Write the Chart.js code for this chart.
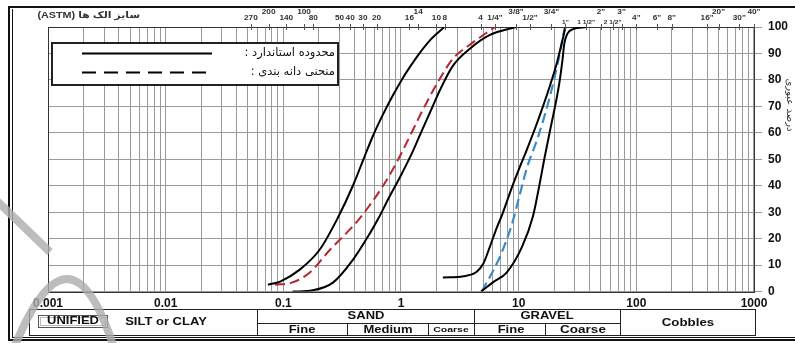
<!DOCTYPE html>
<html>
<head>
<meta charset="utf-8">
<script src="https://cdn.jsdelivr.net/npm/chart.js@4"></script>
<style>
html, body { margin: 0; padding: 0; background: #fff; }
canvas { display: block; }
</style>
</head>
<body>
<canvas id="gradingChart" width="795" height="343"></canvas>
<script>
// grain size (mm) and percent passing
const sandUpperSize = [0.074, 0.094, 0.138, 0.205, 0.29, 0.39, 0.474, 0.577, 0.70, 0.85, 1.02, 1.2, 1.4, 1.8, 2.33];
const sandUpperPass = [2.6, 3.8, 8.3, 16, 27.8, 40, 49.4, 58.8, 66.8, 74, 80.2, 85.1, 89.4, 95.4, 100];

const sandLowerSize = [0.12, 0.178, 0.264, 0.39, 0.544, 0.64, 0.78, 1.0, 1.26, 1.46, 1.83, 2.15, 2.76, 3.85, 5.7, 9.5];
const sandLowerPass = [0, 0.5, 3.4, 12, 22, 27.5, 35, 44, 53, 59.5, 69.3, 76.3, 85.3, 91.8, 97, 100];

const sandCurveSize = [0.085, 0.118, 0.168, 0.249, 0.368, 0.43, 0.55, 0.70, 0.853, 1.0, 1.26, 1.53, 2.06, 2.76, 3.85, 6.3];
const sandCurvePass = [2.6, 3.4, 7.2, 15.8, 23.5, 26.8, 33, 39.8, 46.2, 52, 61, 68.6, 79.2, 88, 93.3, 100];

const gravelUpperSize = [2.27, 3.4, 4.4, 5.0, 5.7, 6.5, 7.3, 8.7, 10, 11.7, 14, 16.1, 18.5, 21, 23, 25];
const gravelUpperPass = [5.3, 5.8, 7.5, 10.5, 17, 24, 29.5, 39, 46, 53.5, 62.5, 70, 78, 86, 93, 100];

const gravelLowerSize = [4.8, 6.0, 7.9, 10.7, 13.2, 14.9, 16.5, 18.5, 20.5, 22.2, 23.5, 24.5, 26, 29, 37.5];
const gravelLowerPass = [0, 3.4, 7.2, 17, 28.3, 39.5, 50, 61, 70.5, 79, 87, 94, 97.5, 99.2, 100];

const gravelCurveSize = [4.86, 6.9, 8.7, 10, 11.8, 14.5, 18.5, 22, 24.7];
const gravelCurvePass = [0, 13, 25, 35, 47, 58, 74, 88.5, 100];

// bottom axis labels
const decadeTicks = [0.001, 0.01, 0.1, 1, 10, 100, 1000];
const decadeLabels = ['0.001', '0.01', '0.1', '1', '10', '100', '1000'];

// ASTM sieves along the top edge (label, opening in mm)
const sieveLowLabels = ['270', '140', '80', '50', '40', '30', '20', '16', '10', '8', '4', '1/4"', '1/2"', '4"', '6"', '8"', '16"', '30"'];
const sieveLowSizes = [0.053, 0.106, 0.18, 0.3, 0.37, 0.475, 0.62, 1.18, 2.0, 2.36, 4.75, 6.3, 12.5, 100, 150, 200, 400, 750];
const sieveHighLabels = ['200', '100', '14', '3/8"', '3/4"', '2"', '3"', '20"', '40"'];
const sieveHighSizes = [0.075, 0.15, 1.4, 9.5, 19, 50, 75, 500, 1000];
const sieveSmallLabels = ['1"', '1 1/2"', '2 1/2"'];
const sieveSmallSizes = [25, 37.5, 63];

const legendLabels = ['محدوده استاندارد :', 'منحنی دانه بندی :'];

const LATIN = '"Liberation Sans", Arial, sans-serif';
const PERSIAN = '"DejaVu Sans", sans-serif';

function toPoints(sizes, passes) {
    return sizes.map((s, i) => ({ x: s, y: passes[i] }));
}

const gridTicks = [];
for (let e = -3; e < 3; e++) {
    for (let m = 1; m < 10; m++) {
        gridTicks.push(+(m * Math.pow(10, e)).toPrecision(3));
    }
}
gridTicks.push(1000);

function stretchText(c, text, x, y, font, sx, align, color) {
    c.save();
    c.translate(x, y);
    c.scale(sx, 1);
    c.font = font;
    c.fillStyle = color || '#111';
    c.textAlign = align || 'center';
    c.textBaseline = 'middle';
    c.fillText(text, 0, 0);
    c.restore();
}

function hLine(c, x1, x2, y) {
    c.beginPath(); c.moveTo(x1, y); c.lineTo(x2, y); c.stroke();
}
function vLine(c, x, y1, y2) {
    c.beginPath(); c.moveTo(x, y1); c.lineTo(x, y2); c.stroke();
}

function drawSieveAxis(chart) {
    const c = chart.ctx;
    const xs = chart.scales.x;
    const top = chart.chartArea.top;
    const groups = [
        [sieveLowLabels, sieveLowSizes, 18, 'bold 7.5px ' + LATIN],
        [sieveHighLabels, sieveHighSizes, 12, 'bold 7.5px ' + LATIN],
        [sieveSmallLabels, sieveSmallSizes, 22, 'bold 6px ' + LATIN]
    ];
    c.save();
    c.strokeStyle = '#555';
    c.lineWidth = 1;
    groups.forEach(([labels, sizes, y, font]) => {
        sizes.forEach((s, i) => {
            const px = xs.getPixelForValue(s);
            vLine(c, Math.round(px) + 0.5, top - 3, top + 3);
            stretchText(c, labels[i], px, y, font, 1.1, 'center', '#333');
        });
    });
    c.restore();

    c.save();
    c.direction = 'rtl';
    stretchText(c, 'سایز الک ها (ASTM)', 140, 16, 'bold 9px ' + LATIN + ', ' + PERSIAN, 1.2, 'right', '#333');
    c.restore();

    c.save();
    c.translate(790, 105);
    c.rotate(Math.PI / 2);
    c.direction = 'rtl';
    c.font = '10px ' + PERSIAN;
    c.fillStyle = '#333';
    c.textAlign = 'center';
    c.textBaseline = 'middle';
    c.fillText('درصد عبوری', 0, 0);
    c.restore();
}

function drawLegendBox(c) {
    c.save();
    c.fillStyle = '#fff';
    c.fillRect(52, 43, 286, 42);
    c.strokeStyle = '#222';
    c.lineWidth = 2;
    c.strokeRect(52, 43, 286, 42);

    c.strokeStyle = '#000';
    c.lineWidth = 2;
    hLine(c, 82, 212, 53.5);
    c.setLineDash([14, 8]);
    hLine(c, 82, 212, 72.5);
    c.setLineDash([]);

    c.direction = 'rtl';
    c.font = '11.5px ' + PERSIAN;
    c.fillStyle = '#111';
    c.textAlign = 'right';
    c.textBaseline = 'middle';
    c.fillText(legendLabels[0], 335, 53);
    c.fillText(legendLabels[1], 335, 72);
    c.restore();
}

function drawTable(c) {
    c.save();
    c.strokeStyle = '#222';
    c.lineWidth = 1;
    c.strokeRect(29.5, 309.5, 726, 26);
    vLine(c, 257.5, 309.5, 335.5);
    vLine(c, 474.5, 309.5, 335.5);
    vLine(c, 620.5, 309.5, 335.5);
    vLine(c, 347.5, 323.5, 335.5);
    vLine(c, 428.5, 323.5, 335.5);
    vLine(c, 545.5, 323.5, 335.5);
    hLine(c, 257.5, 620.5, 323.5);

    c.strokeStyle = '#555';
    c.strokeRect(38.5, 315.5, 69, 12);
    c.strokeStyle = '#bbb';
    c.strokeRect(40.5, 317.5, 65, 8);

    const big = 'bold 10px ' + LATIN;
    stretchText(c, 'UNIFIED', 73, 321.5, big, 1.3);
    stretchText(c, 'SILT or CLAY', 166, 322, big, 1.3);
    stretchText(c, 'SAND', 366, 316.5, big, 1.3);
    stretchText(c, 'Fine', 302, 330, big, 1.3);
    stretchText(c, 'Medium', 388, 330, big, 1.3);
    stretchText(c, 'Coarse', 451, 329.5, 'bold 7.5px ' + LATIN, 1.4);
    stretchText(c, 'GRAVEL', 547, 316.5, big, 1.3);
    stretchText(c, 'Fine', 511, 330, big, 1.3);
    stretchText(c, 'Coarse', 583, 330, big, 1.35);
    stretchText(c, 'Cobbles', 688, 323, big, 1.33);
    c.restore();
}

function drawFrame(c) {
    c.save();
    c.strokeStyle = '#111';
    c.lineWidth = 2;
    c.strokeRect(9, 7, 800, 333);
    c.lineWidth = 1;
    vLine(c, 12.5, 9, 338);
    hLine(c, 12, 800, 337.5);
    c.restore();
}

function drawWatermark(c) {
    c.save();
    c.strokeStyle = 'rgba(172,172,172,0.8)';
    c.lineWidth = 8;
    c.beginPath(); c.moveTo(-4, 200); c.lineTo(50, 252); c.stroke();
    c.beginPath(); c.moveTo(14, 348); c.quadraticCurveTo(70, 210, 114, 348); c.stroke();
    c.restore();
}

const sheetPlugin = {
    id: 'sheet',
    beforeDraw(chart) {
        const c = chart.ctx;
        c.save();
        c.fillStyle = '#fff';
        c.fillRect(0, 0, chart.width, chart.height);
        c.restore();
    },
    beforeDatasetsDraw(chart) {
        const c = chart.ctx;
        const a = chart.chartArea;
        c.save();
        c.strokeStyle = '#333';
        c.lineWidth = 1;
        c.strokeRect(Math.round(a.left) + 0.5, Math.round(a.top) + 0.5,
            Math.round(a.right - a.left), Math.round(a.bottom - a.top));
        c.restore();
    },
    afterDraw(chart) {
        drawSieveAxis(chart);
        drawLegendBox(chart.ctx);
        drawTable(chart.ctx);
        drawFrame(chart.ctx);
        drawWatermark(chart.ctx);
    }
};

function curve(sizes, passes, color, dash, width) {
    return {
        data: toPoints(sizes, passes),
        borderColor: color,
        borderWidth: width || 2,
        borderDash: dash || [],
        pointRadius: 0,
        fill: false,
        cubicInterpolationMode: 'monotone'
    };
}

const tickFont = { family: LATIN, size: 12, weight: 'bold' };

new Chart(document.getElementById('gradingChart'), {
    type: 'line',
    data: {
        datasets: [
            curve(sandUpperSize, sandUpperPass, '#000'),
            curve(sandLowerSize, sandLowerPass, '#000'),
            curve(sandCurveSize, sandCurvePass, '#b5262d', [10, 5]),
            curve(gravelUpperSize, gravelUpperPass, '#000'),
            curve(gravelLowerSize, gravelLowerPass, '#000'),
            curve(gravelCurveSize, gravelCurvePass, '#3a8cc8', [10, 5], 2.2)
        ]
    },
    options: {
        responsive: false,
        animation: false,
        layout: { padding: { left: 48, top: 27, right: 1, bottom: 27 } },
        plugins: {
            legend: { display: false },
            tooltip: { enabled: false }
        },
        scales: {
            x: {
                type: 'logarithmic',
                min: 0.001,
                max: 1000,
                afterBuildTicks: (scale) => {
                    scale.ticks = gridTicks.map(v => ({ value: v }));
                },
                ticks: {
                    autoSkip: false,
                    maxRotation: 0,
                    padding: 5,
                    color: '#111',
                    font: tickFont,
                    callback: (value) => {
                        const k = decadeTicks.findIndex(d => Math.abs(d - value) < d * 1e-6);
                        return k >= 0 ? decadeLabels[k] : '';
                    }
                },
                grid: { color: '#9a9a9a', lineWidth: 1, drawTicks: false },
                border: { display: false }
            },
            y: {
                position: 'right',
                min: 0,
                max: 100,
                ticks: {
                    stepSize: 10,
                    padding: 6,
                    color: '#111',
                    font: tickFont
                },
                grid: { color: '#9a9a9a', lineWidth: 1, tickLength: 8 },
                border: { display: false }
            }
        }
    },
    plugins: [sheetPlugin]
});
</script>
</body>
</html>
